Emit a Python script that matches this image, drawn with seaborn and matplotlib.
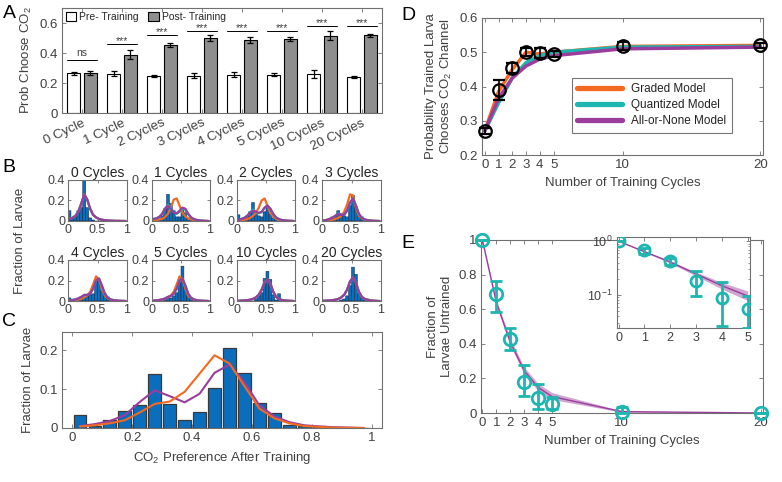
import numpy as np
import pandas as pd
import matplotlib
matplotlib.use("Agg")
import matplotlib.pyplot as plt
import seaborn as sns

# ---------------- data ----------------
cycles = [0, 1, 2, 3, 4, 5, 10, 20]
cycle_labels = ["0 Cycle", "1 Cycle", "2 Cycles", "3 Cycles", "4 Cycles",
                "5 Cycles", "10 Cycles", "20 Cycles"]

# panel A
pre_mean = [0.265, 0.263, 0.248, 0.250, 0.256, 0.256, 0.260, 0.242]
pre_err = [0.010, 0.015, 0.006, 0.015, 0.015, 0.008, 0.026, 0.007]
post_mean = [0.268, 0.390, 0.455, 0.500, 0.490, 0.495, 0.516, 0.518]
post_err = [0.012, 0.030, 0.015, 0.020, 0.020, 0.012, 0.030, 0.012]
sig_text = ["ns", "***", "***", "***", "***", "***", "***", "***"]
sig_y = [0.353, 0.460, 0.520, 0.545, 0.548, 0.548, 0.580, 0.580]

# panels B / C : preference histograms (bin width 0.05)
bin_centers = [0.025, 0.075, 0.125, 0.175, 0.225, 0.275, 0.325, 0.375, 0.425, 0.475,
               0.525, 0.575, 0.625, 0.675, 0.725, 0.775, 0.825, 0.875, 0.925, 0.975]
bin_edges = [0, 0.05, 0.1, 0.15, 0.2, 0.25, 0.3, 0.35, 0.4, 0.45, 0.5,
             0.55, 0.6, 0.65, 0.7, 0.75, 0.8, 0.85, 0.9, 0.95, 1.0]

b_hist = [
    [0.10, 0.02, 0.05, 0.10, 0.13, 0.40, 0.13, 0.03, 0.01, 0, 0, 0, 0, 0, 0, 0, 0, 0, 0, 0],
    [0.02, 0.02, 0.02, 0.05, 0.12, 0.26, 0.17, 0.10, 0.04, 0.04, 0.12, 0.08, 0.03, 0.01, 0, 0, 0, 0, 0, 0],
    [0.06, 0.02, 0.03, 0.05, 0.09, 0.18, 0.07, 0.05, 0.04, 0.09, 0.15, 0.07, 0.03, 0.02, 0, 0, 0, 0, 0, 0],
    [0, 0, 0.02, 0.04, 0.05, 0.10, 0.06, 0.05, 0.04, 0.15, 0.25, 0.14, 0.06, 0.04, 0.01, 0, 0, 0, 0, 0],
    [0.03, 0, 0.01, 0.02, 0.04, 0.04, 0.05, 0.06, 0.07, 0.20, 0.20, 0.10, 0.07, 0.04, 0.01, 0, 0, 0, 0, 0],
    [0, 0, 0.01, 0.01, 0.02, 0.03, 0.03, 0.05, 0.08, 0.18, 0.34, 0.14, 0.05, 0.03, 0.01, 0, 0, 0, 0, 0],
    [0, 0, 0, 0, 0, 0, 0.02, 0.05, 0.08, 0.22, 0.29, 0.21, 0.06, 0.01, 0.07, 0, 0, 0, 0, 0],
    [0, 0, 0, 0, 0, 0, 0.01, 0.02, 0.05, 0.15, 0.33, 0.26, 0.07, 0.03, 0.01, 0.02, 0, 0, 0, 0],
]
b_graded = [
    [0.02, 0.03, 0.05, 0.09, 0.17, 0.26, 0.21, 0.12, 0.06, 0.035, 0.02, 0.012, 0.008, 0.005, 0.003, 0.002, 0.001, 0.001, 0, 0],
    [0.01, 0.01, 0.015, 0.02, 0.04, 0.07, 0.13, 0.21, 0.22, 0.15, 0.08, 0.045, 0.025, 0.015, 0.01, 0.005, 0.003, 0.002, 0.001, 0],
    [0.005, 0.008, 0.012, 0.018, 0.03, 0.05, 0.08, 0.13, 0.20, 0.22, 0.15, 0.08, 0.04, 0.02, 0.01, 0.005, 0.003, 0.002, 0.001, 0],
    [0.003, 0.005, 0.008, 0.012, 0.02, 0.03, 0.05, 0.09, 0.16, 0.26, 0.25, 0.13, 0.05, 0.025, 0.012, 0.006, 0.003, 0.002, 0.001, 0],
    [0.003, 0.005, 0.008, 0.012, 0.02, 0.035, 0.055, 0.09, 0.16, 0.24, 0.21, 0.12, 0.05, 0.025, 0.012, 0.006, 0.003, 0.002, 0.001, 0],
    [0.003, 0.005, 0.008, 0.012, 0.02, 0.035, 0.055, 0.09, 0.16, 0.24, 0.21, 0.12, 0.05, 0.025, 0.012, 0.006, 0.003, 0.002, 0.001, 0],
    [0.002, 0.003, 0.005, 0.008, 0.012, 0.02, 0.035, 0.06, 0.11, 0.18, 0.21, 0.17, 0.09, 0.04, 0.02, 0.01, 0.005, 0.003, 0.001, 0],
    [0.002, 0.003, 0.005, 0.008, 0.012, 0.02, 0.035, 0.06, 0.11, 0.19, 0.23, 0.18, 0.09, 0.04, 0.02, 0.01, 0.005, 0.003, 0.001, 0],
]
b_quantized = [
    [0.02, 0.03, 0.05, 0.09, 0.17, 0.26, 0.21, 0.12, 0.06, 0.035, 0.02, 0.012, 0.008, 0.005, 0.003, 0.002, 0.001, 0.001, 0, 0],
    [0.02, 0.025, 0.04, 0.07, 0.12, 0.16, 0.13, 0.085, 0.07, 0.09, 0.12, 0.11, 0.065, 0.033, 0.017, 0.009, 0.005, 0.003, 0.001, 0],
    [0.01, 0.02, 0.03, 0.05, 0.085, 0.11, 0.09, 0.075, 0.085, 0.13, 0.15, 0.12, 0.065, 0.033, 0.017, 0.009, 0.005, 0.003, 0.001, 0],
    [0.005, 0.01, 0.02, 0.03, 0.05, 0.075, 0.065, 0.06, 0.10, 0.18, 0.22, 0.15, 0.07, 0.03, 0.015, 0.008, 0.004, 0.002, 0.001, 0],
    [0.005, 0.01, 0.015, 0.025, 0.04, 0.055, 0.06, 0.075, 0.12, 0.20, 0.22, 0.15, 0.07, 0.03, 0.015, 0.008, 0.004, 0.002, 0.001, 0],
    [0.003, 0.006, 0.01, 0.015, 0.025, 0.04, 0.05, 0.07, 0.12, 0.20, 0.22, 0.15, 0.07, 0.03, 0.015, 0.008, 0.004, 0.002, 0.001, 0],
    [0.002, 0.003, 0.005, 0.008, 0.012, 0.02, 0.035, 0.06, 0.11, 0.18, 0.21, 0.17, 0.09, 0.04, 0.02, 0.01, 0.005, 0.003, 0.001, 0],
    [0.002, 0.003, 0.005, 0.008, 0.012, 0.02, 0.035, 0.06, 0.11, 0.19, 0.23, 0.18, 0.09, 0.04, 0.02, 0.01, 0.005, 0.003, 0.001, 0],
]
b_allnone = [
    [0.02, 0.03, 0.05, 0.09, 0.17, 0.26, 0.21, 0.12, 0.06, 0.035, 0.02, 0.012, 0.008, 0.005, 0.003, 0.002, 0.001, 0.001, 0, 0],
    [0.02, 0.025, 0.04, 0.07, 0.12, 0.15, 0.12, 0.08, 0.075, 0.10, 0.13, 0.12, 0.07, 0.035, 0.018, 0.01, 0.005, 0.003, 0.001, 0],
    [0.01, 0.02, 0.03, 0.05, 0.08, 0.10, 0.09, 0.08, 0.09, 0.13, 0.15, 0.12, 0.07, 0.035, 0.018, 0.01, 0.005, 0.003, 0.001, 0],
    [0.005, 0.01, 0.02, 0.03, 0.05, 0.07, 0.06, 0.06, 0.10, 0.18, 0.22, 0.15, 0.07, 0.03, 0.015, 0.008, 0.004, 0.002, 0.001, 0],
    [0.005, 0.01, 0.015, 0.025, 0.04, 0.06, 0.06, 0.07, 0.12, 0.20, 0.22, 0.15, 0.07, 0.03, 0.015, 0.008, 0.004, 0.002, 0.001, 0],
    [0.003, 0.006, 0.01, 0.015, 0.025, 0.04, 0.05, 0.07, 0.12, 0.20, 0.22, 0.15, 0.07, 0.03, 0.015, 0.008, 0.004, 0.002, 0.001, 0],
    [0.002, 0.003, 0.005, 0.008, 0.012, 0.02, 0.035, 0.06, 0.11, 0.18, 0.21, 0.17, 0.09, 0.04, 0.02, 0.01, 0.005, 0.003, 0.001, 0],
    [0.002, 0.003, 0.005, 0.008, 0.012, 0.02, 0.035, 0.06, 0.11, 0.19, 0.23, 0.18, 0.09, 0.04, 0.02, 0.01, 0.005, 0.003, 0.001, 0],
]

c_hist = [0.033, 0.004, 0.021, 0.043, 0.059, 0.140, 0.062, 0.021, 0.041, 0.102,
          0.207, 0.142, 0.065, 0.038, 0.008, 0.004, 0.006, 0, 0, 0]
c_graded = [0.004, 0.007, 0.012, 0.020, 0.040, 0.062, 0.068, 0.093, 0.140, 0.187,
            0.166, 0.108, 0.050, 0.025, 0.012, 0.005, 0.003, 0.001, 0.0005, 0]
c_allnone = [0.005, 0.010, 0.018, 0.033, 0.067, 0.097, 0.082, 0.066, 0.088, 0.142,
             0.163, 0.118, 0.058, 0.030, 0.015, 0.007, 0.004, 0.002, 0.001, 0]

# panel D
d_mean = [0.270, 0.390, 0.454, 0.500, 0.498, 0.495, 0.518, 0.520]
d_err = [0.010, 0.028, 0.015, 0.012, 0.015, 0.008, 0.012, 0.008]
d_graded = [0.270, 0.385, 0.450, 0.500, 0.495, 0.500, 0.517, 0.520]
d_quantized = [0.270, 0.352, 0.425, 0.470, 0.490, 0.500, 0.515, 0.517]
d_allnone = [0.270, 0.365, 0.425, 0.460, 0.480, 0.490, 0.510, 0.515]

# panel E
e_frac = [1.0, 0.69, 0.43, 0.18, 0.088, 0.054, 0.003, 0.0]
e_low = [1.0, 0.586, 0.363, 0.097, 0.026, 0.024, 0.0, 0.0]
e_high = [1.0, 0.764, 0.490, 0.275, 0.170, 0.095, 0.037, 0.0]
e_model = [1.0, 0.64, 0.41, 0.245, 0.148, 0.095, 0.008, 0.0001]
e_band_lo = [1.0, 0.625, 0.39, 0.225, 0.128, 0.078, 0.005, 0.00005]
e_band_hi = [1.0, 0.655, 0.43, 0.265, 0.170, 0.118, 0.013, 0.0003]

# ---------------- style ----------------
sns.set_theme(style="ticks")
plt.rcParams["font.family"] = ["Liberation Sans", "DejaVu Sans"]
plt.rcParams["mathtext.fontset"] = "custom"
plt.rcParams["mathtext.rm"] = "Liberation Sans"
plt.rcParams["mathtext.it"] = "Liberation Sans:italic"
plt.rcParams["mathtext.bf"] = "Liberation Sans:bold"

blue = "#0A6EBD"
orange = "#F26A21"
teal = "#1DB6B0"
purple = "#9B3D9C"
txt = "#404040"
spine_c = "#707070"


def style_ax(ax, size=9):
    for s in ax.spines.values():
        s.set_visible(True)
        s.set_color(spine_c)
        s.set_linewidth(0.8)
    ax.tick_params(direction="in", length=3, width=0.6, color=spine_c,
                   labelcolor=txt, labelsize=size, top=True, right=True, pad=3)
    ax.xaxis.label.set_color(txt)
    ax.yaxis.label.set_color(txt)


fig = plt.figure(figsize=(7.82, 4.82), dpi=100)
W, H = 782, 482


def add_ax(x0, y0, x1, y1):
    return fig.add_axes([x0 / W, 1 - y1 / H, (x1 - x0) / W, (y1 - y0) / H])


# ---------------- A ----------------
axA = add_ax(62, 8, 382, 113)
dfA = pd.DataFrame({
    "label": cycle_labels * 2,
    "prob": pre_mean + post_mean,
    "phase": ["Pre- Training"] * 8 + ["Post- Training"] * 8,
})
sns.barplot(data=dfA, x="label", y="prob", hue="phase", order=cycle_labels,
            palette={"Pre- Training": "white", "Post- Training": "#8E8E8E"},
            edgecolor="black", linewidth=0.8, width=0.83, gap=0.2,
            errorbar=None, ax=axA)
off = 0.83 / 4
xs = np.arange(8)
axA.errorbar(xs - off, pre_mean, yerr=pre_err, fmt="none", ecolor="black",
             elinewidth=0.9, capsize=2, capthick=0.9)
axA.errorbar(xs + off, post_mean, yerr=post_err, fmt="none", ecolor="black",
             elinewidth=0.9, capsize=2, capthick=0.9)
for i in range(8):
    axA.plot([i - 0.37, i + 0.37], [sig_y[i], sig_y[i]], color="black", lw=0.7)
    if sig_text[i] == "ns":
        axA.text(i, sig_y[i] + 0.012, "ns", ha="center", va="bottom", fontsize=7.5, color=txt)
    else:
        axA.text(i, sig_y[i] - 0.012, "***", ha="center", va="bottom", fontsize=7.5, color=txt)
axA.set_ylim(0, 0.7)
axA.set_xlim(-0.5, 7.5)
axA.set_yticks([0, 0.2, 0.4, 0.6])
axA.set_yticklabels(["0", "0.2", "0.4", "0.6"])
axA.set_xlabel("")
axA.set_ylabel("Prob Choose CO$_2$", fontsize=9.5)
style_ax(axA, 9.5)
axA.set_xticks(xs)
axA.set_xticklabels(cycle_labels, rotation=25, ha="right", rotation_mode="anchor")
axA.legend(loc="upper left", ncol=2, frameon=False, fontsize=7.5,
           handlelength=1.0, handleheight=1.0, columnspacing=0.9,
           handletextpad=0.3, borderaxespad=0.15, borderpad=0.2)

# ---------------- B ----------------
b_cols = [(68, 127), (152, 210), (237, 295), (322, 381)]
b_rows = [(180, 221), (260, 301)]
for k, c in enumerate(cycles):
    r, cc = divmod(k, 4)
    ax = add_ax(b_cols[cc][0], b_rows[r][0], b_cols[cc][1], b_rows[r][1])
    dfb = pd.DataFrame({"pref": bin_centers, "frac": b_hist[k]})
    sns.histplot(data=dfb, x="pref", weights="frac", bins=bin_edges, color=blue,
                 edgecolor="#102040", linewidth=0.35, alpha=1, snap=False, ax=ax)
    sns.lineplot(x=bin_centers, y=b_graded[k], color=orange, lw=1.6, ax=ax)
    sns.lineplot(x=bin_centers, y=b_quantized[k], color=teal, lw=1.6, ax=ax)
    sns.lineplot(x=bin_centers, y=b_allnone[k], color=purple, lw=1.6, ax=ax)
    ax.set_xlim(0, 1)
    ax.set_ylim(0, 0.4)
    ax.set_xticks([0, 0.5, 1])
    ax.set_xticklabels(["0", "0.5", "1"])
    ax.set_yticks([0, 0.2, 0.4])
    ax.set_yticklabels(["0", "0.2", "0.4"])
    ax.set_xlabel("")
    ax.set_ylabel("")
    ax.set_title(f"{c} Cycles", fontsize=10, pad=2, color="#222222")
    style_ax(ax, 9)
    ax.tick_params(length=2, pad=2)
fig.text(20 / W, 1 - 241 / H, "Fraction of Larvae", rotation=90, ha="center",
         va="center", fontsize=9.5, color=txt)

# ---------------- C ----------------
axC = add_ax(62, 332, 382, 428)
dfc = pd.DataFrame({"pref": bin_centers, "frac": c_hist})
sns.histplot(data=dfc, x="pref", weights="frac", bins=bin_edges, shrink=0.85,
             color=blue, edgecolor="#3a3a3a", linewidth=0.9, alpha=1, ax=axC)
sns.lineplot(x=bin_centers, y=c_allnone, color=purple, lw=1.5, ax=axC)
sns.lineplot(x=bin_centers, y=c_graded, color=orange, lw=1.5, ax=axC)
axC.set_xlim(-0.035, 1.035)
axC.set_ylim(0, 0.247)
axC.set_yticks([0, 0.1, 0.2])
axC.set_yticklabels(["0", "0.1", "0.2"])
axC.set_xticks([0, 0.2, 0.4, 0.6, 0.8, 1])
axC.set_xticklabels(["0", "0.2", "0.4", "0.6", "0.8", "1"])
axC.set_xlabel("CO$_2$ Preference After Training", fontsize=9.5)
axC.set_ylabel("Fraction of Larvae", fontsize=9.5)
style_ax(axC, 9.5)

# ---------------- D ----------------
axD = add_ax(482, 18, 763, 155)
sns.lineplot(x=cycles, y=d_graded, color=orange, lw=2.5, label="Graded Model", ax=axD)
sns.lineplot(x=cycles, y=d_quantized, color=teal, lw=2.5, label="Quantized Model", ax=axD)
sns.lineplot(x=cycles, y=d_allnone, color=purple, lw=2.5, label="All-or-None Model", ax=axD)
axD.errorbar(cycles, d_mean, yerr=d_err, fmt="o", mfc="none", mec="black",
             ms=9, mew=1.6, ecolor="black", elinewidth=1.2, capsize=4,
             zorder=5, clip_on=False)
axD.set_xlim(-0.2, 20.2)
axD.set_ylim(0.2, 0.6)
axD.set_xticks(cycles)
axD.set_xticklabels([str(c) for c in cycles])
axD.set_yticks([0.2, 0.3, 0.4, 0.5, 0.6])
axD.set_yticklabels(["0.2", "0.3", "0.4", "0.5", "0.6"])
axD.set_xlabel("Number of Training Cycles", fontsize=9.5)
axD.set_ylabel("Probability Trained Larva\nChooses CO$_2$ Channel", fontsize=9.5)
style_ax(axD, 9.5)
legD = axD.legend(loc="lower right", bbox_to_anchor=(0.91, 0.12), fontsize=8.5,
                  frameon=True, fancybox=False, edgecolor="#555555",
                  handlelength=3.8, borderpad=0.45, labelspacing=0.35)
legD.get_frame().set_linewidth(0.8)
for t in legD.get_texts():
    t.set_color("#222222")
for h in legD.get_lines():
    h.set_linewidth(3.8)

# ---------------- E ----------------
axE = add_ax(481, 240, 763, 413)
axE.fill_between(cycles, e_band_lo, e_band_hi, color=purple, alpha=0.45, lw=0)
sns.lineplot(x=cycles, y=e_model, color=purple, lw=1.0, ax=axE)
axE.errorbar(cycles, e_frac,
             yerr=[np.array(e_frac) - np.array(e_low), np.array(e_high) - np.array(e_frac)],
             fmt="o", mfc="none", mec=teal, ms=9, mew=2, ecolor=teal,
             elinewidth=2, capsize=4, capthick=2, zorder=5, clip_on=False)
axE.set_xlim(-0.1, 20.15)
axE.set_ylim(0, 1)
axE.set_xticks(cycles)
axE.set_xticklabels([str(c) for c in cycles])
axE.set_yticks([0, 0.2, 0.4, 0.6, 0.8, 1])
axE.set_yticklabels(["0", "0.2", "0.4", "0.6", "0.8", "1"])
axE.set_xlabel("Number of Training Cycles", fontsize=9.5)
axE.set_ylabel("Fraction of\nLarvae Untrained", fontsize=9.5)
style_ax(axE, 9.5)

# inset
axI = add_ax(617, 237, 750, 328)
axI.set_yscale("log")
axI.fill_between(cycles[:6], e_band_lo[:6], e_band_hi[:6], color=purple, alpha=0.45, lw=0)
sns.lineplot(x=cycles[:6], y=e_model[:6], color=purple, lw=1.0, ax=axI)
axI.errorbar(cycles[:6], e_frac[:6],
             yerr=[np.array(e_frac[:6]) - np.array(e_low[:6]),
                   np.array(e_high[:6]) - np.array(e_frac[:6])],
             fmt="o", mfc="none", mec=teal, ms=8, mew=2, ecolor=teal,
             elinewidth=2, capsize=4, capthick=2, zorder=5)
axI.set_xlim(-0.06, 5.09)
axI.set_ylim(0.024, 1.2)
axI.set_xticks([0, 1, 2, 3, 4, 5])
axI.set_xticklabels(["0", "1", "2", "3", "4", "5"])
axI.set_yticks([0.1, 1])
axI.set_xlabel("")
axI.set_ylabel("")
style_ax(axI, 9)
axI.tick_params(which="minor", direction="in", length=1.5, width=0.5,
                color=spine_c, top=True, right=True)
axI.set_facecolor("white")

# panel letters
for lab, (px, py) in {"A": (9, 14), "B": (9, 168), "C": (9, 322),
                      "D": (408, 15), "E": (408, 243)}.items():
    fig.text(px / W, 1 - py / H, lab, fontsize=14, ha="center", va="center",
             color="black")

plt.savefig("out.png", dpi=100)
